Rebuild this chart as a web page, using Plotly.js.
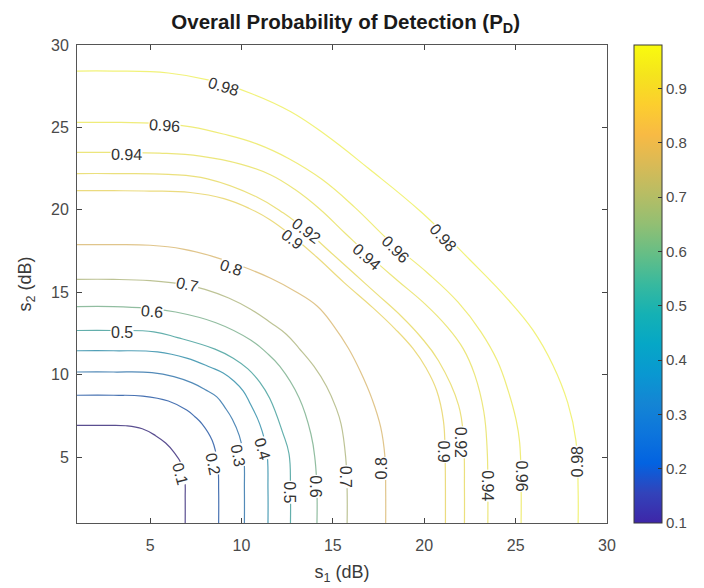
<!DOCTYPE html>
<html>
<head>
<meta charset="utf-8">
<script src="https://cdn.plot.ly/plotly-3.0.1.min.js"></script>
<style>
html,body{margin:0;padding:0;background:#ffffff;}
#chart{width:704px;height:588px;}
</style>
</head>
<body>
<div id="chart"></div>
<script>
// ---- data ----
const levels = [0.1, 0.2, 0.3, 0.4, 0.5, 0.6, 0.7, 0.8, 0.9, 0.92, 0.94, 0.96, 0.98];

const lv010x = [6.92, 6.92, 6.9, 6.72, 6.3, 5.85, 5.3, 4.57, 3.67, 2.5, 1];
const lv010y = [1, 2.5, 3.67, 4.57, 5.3, 5.85, 6.3, 6.72, 6.9, 6.92, 6.92];

const lv020x = [8.75, 8.75, 8.7, 8.4, 7.85, 7.45, 7.0, 6.0, 4.6, 3, 1];
const lv020y = [1, 3, 4.6, 6.0, 7.0, 7.45, 7.85, 8.4, 8.7, 8.75, 8.75];

const lv030x = [10.16, 10.16, 10.12, 9.88, 9.5, 9.1, 8.65, 8.0, 7.3, 6.3, 5.1, 3, 1];
const lv030y = [1, 3, 5.1, 6.3, 7.3, 8.0, 8.65, 9.1, 9.5, 9.88, 10.12, 10.16, 10.16];

const lv040x = [11.45, 11.45, 11.38, 11.0, 10.45, 10.1, 9.6, 9.0, 8.3, 7.0, 5.4, 3, 1];
const lv040y = [1, 3, 5.4, 7.0, 8.3, 9.0, 9.6, 10.1, 10.45, 11.0, 11.38, 11.45, 11.45];

const lv050x = [12.68, 12.68, 12.6, 12.25, 11.55, 11.0, 10.35, 9.55, 8.55, 6.5, 5.2, 3, 1];
const lv050y = [1, 3, 5.2, 6.5, 8.55, 9.55, 10.35, 11.0, 11.55, 12.25, 12.6, 12.68, 12.68];

const lv060x = [14.13, 14.13, 14.03, 13.8, 13.15, 12.1, 11.35, 10.5, 8.6, 6.4, 4.8, 3, 1];
const lv060y = [1, 3, 4.8, 6.4, 8.6, 10.5, 11.35, 12.1, 13.15, 13.8, 14.03, 14.13, 14.13];

const lv070x = [15.78, 15.78, 15.7, 15.45, 15.17, 14.65, 13.97, 13.15, 12.45, 11.6, 10.5, 9.3, 8.0, 7.0, 5, 3, 1];
const lv070y = [1, 3, 5, 7.0, 8.0, 9.3, 10.5, 11.6, 12.45, 13.15, 13.97, 14.65, 15.17, 15.45, 15.7, 15.78, 15.78];

const lv080x = [17.89, 17.89, 17.85, 17.62, 17.15, 16.5, 15.85, 15.05, 14.15, 12.95, 11.6, 10.2, 8.5, 6.8, 5, 3, 1];
const lv080y = [1, 3, 5, 6.8, 8.5, 10.2, 11.6, 12.95, 14.15, 15.05, 15.85, 16.5, 17.15, 17.62, 17.85, 17.89, 17.89];

const lv090x = [21.16, 21.16, 21.14, 21.05, 20.68, 20.1, 19.4, 18.4, 17.15, 15.6, 14.1, 12.78, 11.56, 10.4, 9.04, 7.2, 5, 3, 1];
const lv090y = [1, 3, 5, 7.2, 9.04, 10.4, 11.56, 12.78, 14.1, 15.6, 17.15, 18.4, 19.4, 20.1, 20.68, 21.05, 21.14, 21.16, 21.16];

const lv092x = [22.2, 22.2, 22.15, 21.88, 20.78, 19.8, 18.76, 17.4, 16.15, 14.9, 13.53, 12.3, 10.84, 8.14, 6, 3, 1];
const lv092y = [1, 3, 6, 8.14, 10.84, 12.3, 13.53, 14.9, 16.15, 17.4, 18.76, 19.8, 20.78, 21.88, 22.15, 22.2, 22.2];

const lv094x = [23.48, 23.48, 23.44, 23.26, 22.76, 22.13, 21.23, 20.05, 18.55, 17.1, 15.7, 14.28, 12.93, 11.58, 10, 7.75, 5.5, 3.25, 1];
const lv094y = [1, 3.25, 5.5, 7.75, 10, 11.58, 12.93, 14.28, 15.7, 17.1, 18.55, 20.05, 21.23, 22.13, 22.76, 23.26, 23.44, 23.48, 23.48];

const lv096x = [25.3, 25.3, 25.22, 25.03, 24.6, 24.0, 23.1, 21.85, 20.15, 18.1, 16.2, 14.4, 12.6, 10.84, 9.0, 7.24, 5.9, 3.4, 1];
const lv096y = [1, 3.4, 5.9, 7.24, 9.0, 10.84, 12.6, 14.4, 16.2, 18.1, 20.15, 21.85, 23.1, 24.0, 24.6, 25.03, 25.22, 25.3, 25.3];

const lv098x = [28.42, 28.42, 28.3, 27.85, 27.03, 25.95, 24.55, 22.52, 19.85, 16.94, 14.6, 12.7, 10.6, 8.3, 6, 3, 1];
const lv098y = [1, 3, 6, 8.3, 10.6, 12.7, 14.6, 16.94, 19.85, 22.52, 24.55, 25.95, 27.03, 27.85, 28.3, 28.42, 28.42];

// inline contour labels (text, position in data units, rotation)
const labelText  = ['0.1','0.2','0.3','0.4','0.5','0.6','0.7','0.8','0.9','0.92','0.94','0.96','0.98',
                    '0.5','0.6','0.7','0.8','0.9','0.92','0.94','0.96','0.98',
                    '0.94','0.96','0.98'];
const labelX     = [6.63, 8.43, 9.81, 11.12, 12.65, 14.07, 15.69, 17.67, 21.03, 21.98, 23.45, 25.3, 28.36,
                    3.44, 5.1, 7.0, 9.4, 12.78, 13.53, 3.7, 5.8, 9.0,
                    16.82, 18.43, 21.03];
const labelY     = [3.99, 4.6, 5.1, 5.5, 2.87, 3.23, 3.78, 4.29, 5.34, 5.9, 3.28, 3.88, 4.69,
                    12.54, 13.85, 15.45, 16.5, 18.2, 18.76, 23.34, 25.1, 27.5,
                    17.15, 17.6, 18.35];
const labelAngle = [75, 78, 80, 74, 90, 90, 90, -90, 90, 90, 90, 90, -90,
                    0, 5, 12, 19, 38, 37, 1, 4, 17,
                    41, 45, 48];

const xTicks = [5, 10, 15, 20, 25, 30];
const yTicks = [5, 10, 15, 20, 25, 30];
const cbTicks = [0.1, 0.2, 0.3, 0.4, 0.5, 0.6, 0.7, 0.8, 0.9];
const cLimits = [0.1, 0.98];

// ---- styling ----
const parulaHex = ['#3E26A8','#3243BA','#0363E1','#0D75DC','#1485D4','#0998D1','#06A7C6','#15B1B4',
                   '#38B99E','#65BE86','#92BF73','#B7BD64','#D9BA56','#F8BA44','#FCCE2E','#F5E41D','#F9FB0E'];
const parula = parulaHex.map((c, i) => [i / (parulaHex.length - 1), c]);

function hexToRgb(h){ return [parseInt(h.slice(1,3),16), parseInt(h.slice(3,5),16), parseInt(h.slice(5,7),16)]; }
// colour of a contour level, with thin-line chroma softened as in the reference picture
function colorAt(v, sat){
  let t = (v - cLimits[0]) / (cLimits[1] - cLimits[0]);
  t = Math.max(0, Math.min(1, t));
  let c = hexToRgb(parula[parula.length-1][1]);
  for (let i = 1; i < parula.length; i++){
    if (t <= parula[i][0]){
      const a = parula[i-1], b = parula[i];
      const f = (t - a[0]) / (b[0] - a[0]);
      const ca = hexToRgb(a[1]), cb = hexToRgb(b[1]);
      c = ca.map((x, k) => x + (cb[k] - x) * f);
      break;
    }
  }
  const luma = 0.299 * c[0] + 0.587 * c[1] + 0.114 * c[2];
  c = c.map(x => Math.round(luma + sat * (x - luma)));
  return 'rgb(' + c.join(',') + ')';
}

const curves = [
  [lv010x, lv010y], [lv020x, lv020y], [lv030x, lv030y], [lv040x, lv040y], [lv050x, lv050y],
  [lv060x, lv060y], [lv070x, lv070y], [lv080x, lv080y], [lv090x, lv090y], [lv092x, lv092y],
  [lv094x, lv094y], [lv096x, lv096y], [lv098x, lv098y]
];

const traces = curves.map((c, i) => ({
  type: 'scatter', mode: 'lines', x: c[0], y: c[1],
  line: {color: colorAt(levels[i], 0.6), width: 1.2, shape: 'spline', smoothing: 1.2},
  opacity: 0.85, hoverinfo: 'skip', showlegend: false
}));

traces.push({
  type: 'scatter', mode: 'markers', x: [null], y: [null], hoverinfo: 'skip', showlegend: false,
  marker: {
    color: [cLimits[0]], cmin: cLimits[0], cmax: cLimits[1], colorscale: parula, showscale: true, size: 1,
    colorbar: {
      x: 1.0505, xanchor: 'left', xpad: 0, y: 0.5, yanchor: 'middle', ypad: 0,
      len: 1, lenmode: 'fraction', thickness: 28, thicknessmode: 'pixels',
      outlinewidth: 1, outlinecolor: '#3a3a3a',
      tickvals: cbTicks, ticks: 'inside', ticklen: 4, tickcolor: '#333',
      tickfont: {size: 15, color: '#4a4a4a'}
    }
  }
});

const annotations = labelText.map((t, i) => ({
  x: labelX[i], y: labelY[i], xref: 'x', yref: 'y', text: t, textangle: labelAngle[i],
  showarrow: false, font: {size: 16, color: '#333333'}, bgcolor: '#ffffff', borderpad: 0
}));

const axisCommon = {
  range: [1, 30], ticks: 'inside', ticklen: 5, tickcolor: '#444', showline: true, linecolor: '#555',
  linewidth: 1, mirror: 'ticks', showgrid: false, zeroline: false, tickfont: {size: 16, color: '#4a4a4a'}
};

const layout = {
  width: 704, height: 588,
  margin: {l: 77, r: 88, t: 45, b: 65},
  paper_bgcolor: '#ffffff', plot_bgcolor: '#ffffff',
  font: {family: 'Liberation Sans, Arial, Helvetica, sans-serif', color: '#3a3a3a', size: 16},
  title: {
    text: '<b>Overall Probability of Detection (P<sub>D</sub>)</b>',
    font: {size: 20.5, color: '#1a1a1a'},
    x: 0.507, xref: 'paper', xanchor: 'center', y: 1 - 22 / 588, yref: 'container', yanchor: 'middle'
  },
  xaxis: Object.assign({}, axisCommon, {
    tickvals: xTicks, ticklabelstandoff: 8,
    title: {text: 's<sub>1</sub> (dB)', font: {size: 18, color: '#3a3a3a'}, standoff: 12}
  }),
  yaxis: Object.assign({}, axisCommon, {
    tickvals: yTicks, ticklabelstandoff: 4,
    title: {text: 's<sub>2</sub> (dB)', font: {size: 18, color: '#3a3a3a'}, standoff: 14}
  }),
  annotations: annotations
};

Plotly.newPlot('chart', traces, layout, {displayModeBar: false, staticPlot: true});
</script>
</body>
</html>
